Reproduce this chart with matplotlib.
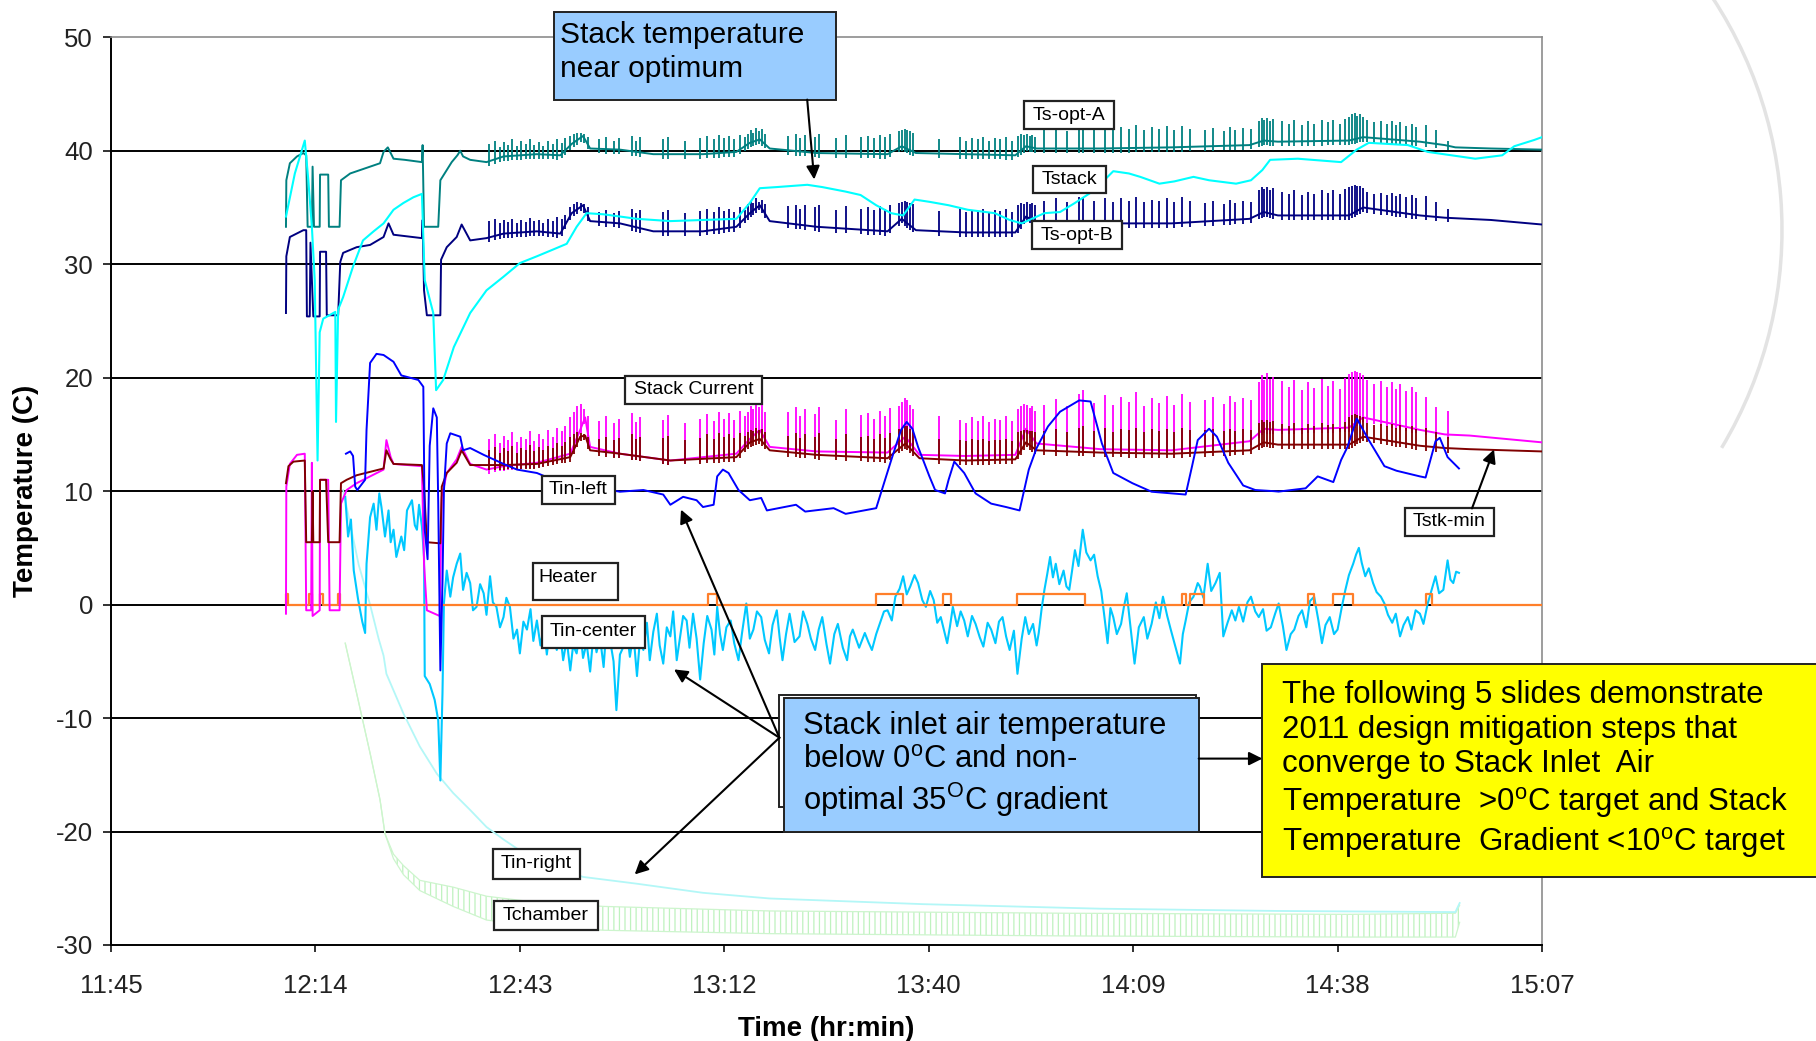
import numpy as np
import matplotlib
matplotlib.use('Agg')
import matplotlib.pyplot as plt
from matplotlib.patches import Rectangle, FancyArrowPatch, Arc
from matplotlib.transforms import Affine2D

plt.rcParams['font.family'] = ['Liberation Sans', 'DejaVu Sans']
plt.rcParams['mathtext.fontset'] = 'custom'
plt.rcParams['mathtext.rm'] = 'Liberation Sans'
plt.rcParams['hatch.linewidth'] = 0.9

W, H = 1816, 1041

# time in minutes of the day
x_ticks = [705.6, 734.4, 763.2, 792.0, 820.8, 849.6, 878.4, 907.2]
x_labels = ['11:45', '12:14', '12:43', '13:12', '13:40', '14:09', '14:38', '15:07']
y_ticks = [-30, -20, -10, 0, 10, 20, 30, 40, 50]

ts_opt_a = [(730.25, 33.3), (730.3, 37.4), (730.8, 38.9), (731.8, 39.5), (732.7, 39.8), (733.1, 39.6),
            (733.3, 33.3), (733.9, 33.3), (734.0, 38.6), (734.2, 33.3), (735.0, 33.3), (735.05, 37.9),
            (736.2, 37.9), (736.3, 33.3), (737.8, 33.3), (738.0, 37.4), (739.3, 38.0), (742.1, 38.6),
            (743.5, 38.9), (744.0, 39.9), (744.6, 40.3), (745.4, 39.3), (747.0, 39.2), (749.4, 39.0),
            (749.5, 40.5), (749.7, 33.3), (751.7, 33.3), (752.0, 37.4), (752.9, 38.3), (753.6, 39.0),
            (754.4, 39.6), (754.8, 40.0), (755.2, 39.5), (756.2, 39.2), (758.5, 39.0), (760.9, 39.5),
            (765.6, 39.7), (768.9, 39.6), (770.5, 40.6), (772.1, 41.3), (773.1, 40.2), (777.3, 40.1),
            (782.0, 39.7), (789.0, 39.7), (793.7, 39.9), (795.6, 40.7), (797.0, 41.0), (798.4, 40.2),
            (805.0, 39.8), (815.0, 39.7), (817.0, 40.4), (819.0, 39.8), (826.0, 39.7), (833.0, 39.6),
            (834.5, 40.4), (836.0, 40.2), (845.0, 40.2), (855.0, 40.3), (866.0, 40.5), (868.0, 40.9),
            (870.0, 40.8), (880.0, 40.9), (882.0, 41.2), (890.0, 40.8), (893.5, 40.5), (895.0, 40.3),
            (900.0, 40.2), (907.2, 40.1)]

ts_opt_b = [(730.25, 25.7), (730.3, 30.7), (730.8, 32.4), (732.7, 33.0), (733.1, 33.0), (733.2, 25.4),
            (733.6, 25.4), (733.7, 31.9), (734.1, 25.4), (735.0, 25.4), (735.05, 31.1), (735.9, 31.1),
            (736.0, 25.5), (737.6, 25.5), (737.9, 30.2), (738.3, 31.0), (740.2, 31.5), (742.1, 31.7),
            (744.0, 32.4), (744.7, 33.6), (745.4, 32.6), (749.4, 32.3), (749.5, 33.9), (749.7, 27.7),
            (750.1, 25.5), (752.0, 25.5), (752.1, 30.4), (752.9, 31.5), (754.3, 32.4), (755.0, 33.5),
            (756.2, 32.1), (758.5, 32.3), (760.9, 32.7), (765.6, 32.9), (768.9, 32.7), (770.5, 34.5),
            (772.1, 35.2), (773.1, 33.8), (777.3, 33.6), (782.0, 32.9), (789.0, 32.9), (793.7, 33.3),
            (795.6, 34.5), (797.0, 35.2), (798.4, 33.8), (805.0, 33.3), (815.0, 32.9), (817.0, 34.0),
            (819.0, 33.0), (826.0, 32.8), (833.0, 32.8), (834.5, 34.2), (836.0, 33.7), (845.0, 33.6),
            (855.0, 33.6), (866.0, 34.0), (868.0, 34.6), (870.0, 34.3), (880.0, 34.3), (882.0, 35.0),
            (890.0, 34.3), (893.5, 34.1), (900.0, 33.9), (907.2, 33.5)]

tstack = [(730.25, 34.2), (731.5, 38.0), (732.9, 40.9), (733.4, 37.4), (733.9, 33.3), (734.3, 28.6),
          (734.7, 12.7), (735.0, 24.0), (735.5, 25.2), (737.2, 25.8), (737.3, 16.1), (737.6, 26.0),
          (738.3, 27.1), (739.7, 29.8), (741.1, 32.1), (742.6, 32.9), (744.0, 33.6), (745.4, 34.8),
          (746.8, 35.4), (748.2, 35.9), (749.4, 36.2), (749.8, 28.6), (751.0, 25.7), (751.4, 18.9),
          (752.4, 19.8), (753.9, 22.7), (756.2, 25.7), (758.5, 27.7), (760.9, 28.9), (763.2, 30.1),
          (765.6, 30.7), (767.9, 31.3), (769.8, 31.8), (771.2, 33.3), (772.6, 34.5), (775.0, 34.4),
          (779.7, 34.0), (784.4, 33.8), (789.0, 33.9), (793.7, 34.0), (795.6, 35.4), (797.0, 36.7),
          (799.4, 36.8), (803.7, 37.0), (805.8, 36.8), (809.1, 36.4), (811.2, 36.1), (813.4, 35.2),
          (815.5, 34.5), (817.2, 34.3), (818.8, 35.7), (820.9, 35.5), (823.6, 35.2), (826.3, 34.8),
          (830.1, 34.5), (832.2, 33.9), (833.9, 33.6), (837.1, 34.5), (839.3, 34.6), (841.4, 35.4),
          (844.1, 36.5), (846.8, 38.2), (849.0, 38.0), (850.6, 37.7), (853.3, 37.1), (855.4, 37.3),
          (858.1, 37.7), (860.3, 37.4), (864.1, 37.1), (866.2, 37.4), (867.8, 38.3), (868.9, 39.2),
          (872.8, 39.3), (878.9, 39.0), (881.1, 40.1), (882.8, 40.7), (888.3, 40.5), (891.1, 39.9),
          (897.8, 39.3), (901.6, 39.6), (903.3, 40.4), (906.1, 40.95), (907.2, 41.2)]

stack_current = [(730.25, -0.8), (730.3, 10.4), (730.8, 12.4), (731.8, 13.2), (732.9, 13.3), (733.1, -0.5),
                 (733.8, -0.5), (733.9, 12.5), (734.0, -1.0), (735.0, -0.5), (735.05, 11.0), (736.2, 11.0),
                 (736.4, -0.5), (737.8, -0.5), (738.0, 8.9), (738.8, 10.1), (740.2, 10.7), (742.1, 11.3),
                 (744.0, 11.9), (744.4, 14.5), (745.0, 13.0), (745.4, 12.4), (749.4, 12.2), (749.7, 3.6),
                 (750.1, -0.5), (751.9, -1.0), (752.2, 9.5), (752.9, 11.6), (754.3, 12.8), (755.0, 13.9),
                 (756.2, 12.4), (758.5, 11.9), (760.9, 12.2), (765.6, 12.5), (770.3, 13.3), (771.7, 15.4),
                 (772.4, 16.5), (773.1, 13.9), (777.3, 13.3), (784.4, 12.7), (793.7, 13.3), (795.6, 14.6),
                 (797.0, 15.4), (798.4, 13.9), (805.0, 13.5), (815.0, 13.4), (817.5, 14.8), (819.5, 13.2),
                 (826.0, 13.1), (833.0, 13.2), (834.5, 15.5), (836.0, 14.2), (845.0, 13.7), (855.0, 13.6),
                 (866.0, 14.4), (868.0, 15.5), (870.0, 15.4), (880.0, 15.6), (882.0, 16.5), (890.0, 15.4),
                 (893.5, 15.0), (897.0, 14.9), (907.2, 14.3)]

tstk_min = [(730.25, 10.7), (730.6, 12.2), (731.3, 12.6), (732.9, 12.7), (733.1, 5.5), (733.9, 5.5),
            (734.0, 10.0), (734.1, 5.5), (735.0, 5.5), (735.05, 11.0), (735.9, 11.0), (736.2, 5.5),
            (737.8, 5.5), (738.0, 10.7), (738.8, 11.0), (740.2, 11.4), (742.1, 11.7), (744.0, 12.0),
            (744.4, 13.6), (745.0, 12.8), (745.4, 12.4), (749.4, 12.3), (749.7, 10.4), (750.1, 5.5),
            (752.0, 5.4), (752.2, 10.4), (752.9, 11.6), (754.3, 12.5), (755.0, 13.6), (756.2, 12.3),
            (760.9, 12.3), (765.6, 12.4), (770.3, 13.0), (771.7, 14.8), (772.4, 14.9), (773.1, 13.6),
            (777.3, 13.3), (784.4, 12.7), (793.7, 13.0), (795.6, 14.3), (797.0, 14.6), (798.4, 13.6),
            (805.0, 13.2), (815.0, 12.9), (817.5, 14.2), (819.5, 12.9), (826.0, 12.7), (833.0, 12.8),
            (834.5, 14.3), (836.0, 13.6), (845.0, 13.4), (855.0, 13.3), (866.0, 13.6), (868.0, 14.3),
            (870.0, 14.1), (880.0, 14.1), (882.0, 14.8), (890.0, 14.0), (893.5, 13.8), (897.0, 13.7),
            (907.2, 13.5)]

# spike times shared by the stack signals, and spike tops per signal
spike_t = [758.8, 759.7, 760.4, 761.0, 761.5, 762.1, 762.8, 763.4, 764.0, 764.6, 765.2, 765.9, 766.5,
           767.1, 767.8, 768.5, 769.1, 769.6, 770.3, 770.8, 771.3, 771.8, 772.3, 772.8, 774.3, 775.4,
           776.4, 777.1, 779.0, 779.5, 780.1, 783.4, 784.1, 786.5, 788.6, 789.6, 790.5, 791.2, 791.9,
           792.6, 793.3, 794.2, 794.9, 795.3, 795.7, 796.1, 796.5, 796.9, 797.3, 797.7, 801.0, 802.1,
           802.7, 803.4, 804.8, 805.4, 807.7, 809.1, 811.2, 812.3, 813.1, 813.9, 814.7, 815.4, 816.6,
           817.0, 817.4, 817.8, 818.2, 818.6, 822.3, 825.2, 826.0, 826.9, 827.7, 828.5, 829.3, 830.1,
           830.9, 831.7, 832.5, 833.4, 833.8, 834.2, 834.6, 835.0, 835.4, 835.8, 837.1, 838.7, 840.3,
           842.0, 842.5, 844.1, 845.7, 846.8, 847.9, 849.0, 850.0, 851.1, 852.2, 853.3, 854.3, 855.4,
           856.5, 857.6, 859.7, 860.8, 862.4, 863.2, 864.0, 865.1, 866.2, 867.3, 867.7, 868.1, 868.5,
           868.9, 869.3, 870.6, 871.5, 872.3, 873.4, 874.2, 875.1, 876.2, 877.0, 877.8, 878.7, 879.5,
           880.0, 880.4, 880.8, 881.2, 881.6, 882.0, 882.5, 883.6, 884.5, 885.3, 886.1, 886.7, 887.2,
           888.1, 888.9, 889.4, 890.8, 892.2, 893.9]
spike_a = [40.6, 40.9, 40.3, 40.8, 40.5, 41.0, 40.4, 40.9, 40.6, 41.0, 40.5, 40.8, 40.4,
           40.9, 40.6, 41.0, 40.7, 41.1, 41.3, 41.5, 41.6, 41.6, 41.5, 41.2, 41.0, 41.2,
           40.9, 41.1, 41.3, 40.9, 41.2, 41.0, 41.2, 40.9, 41.1, 41.3, 41.0, 41.4, 41.1,
           41.3, 41.0, 41.4, 41.2, 41.5, 41.8, 41.6, 42.0, 41.7, 41.9, 41.5, 41.3, 41.5,
           41.1, 41.4, 41.2, 41.5, 41.1, 41.4, 41.2, 41.3, 41.1, 41.4, 41.2, 41.5, 41.7,
           41.8, 41.9, 41.8, 41.7, 41.6, 41.0, 41.2, 40.9, 41.1, 41.0, 41.2, 40.9, 41.1,
           41.0, 41.2, 40.9, 41.3, 41.5, 41.4, 41.5, 41.3, 41.4, 41.2, 41.8, 42.1, 41.7,
           42.2, 42.4, 41.9, 42.2, 41.8, 42.1, 41.9, 42.3, 41.8, 42.1, 41.9, 42.2, 41.8,
           42.2, 41.9, 41.8, 42.0, 41.7, 42.1, 41.8, 42.0, 41.9, 42.6, 42.9, 42.7, 42.9,
           42.6, 42.8, 42.6, 42.4, 42.7, 42.3, 42.6, 42.4, 42.7, 42.5, 42.7, 42.4, 42.8,
           43.0, 43.2, 43.3, 43.1, 43.2, 43.0, 42.7, 42.5, 42.6, 42.4, 42.6, 42.3, 42.5,
           42.2, 42.4, 42.1, 42.3, 41.8, 40.9]
spike_b = [33.8, 34.0, 33.6, 33.9, 33.7, 34.0, 33.6, 33.9, 33.7, 34.1, 33.8, 33.9, 33.6,
           34.0, 33.8, 34.2, 34.0, 34.3, 35.0, 35.3, 35.5, 35.4, 35.3, 35.0, 34.6, 34.8,
           34.5, 34.7, 34.9, 34.5, 34.8, 34.6, 34.8, 34.5, 34.7, 34.9, 34.6, 35.0, 34.7,
           34.9, 34.6, 35.0, 34.8, 35.3, 35.6, 35.4, 35.8, 35.5, 35.7, 35.3, 35.1, 35.2,
           34.9, 35.2, 35.0, 35.2, 34.8, 35.1, 34.9, 35.0, 34.8, 35.1, 34.9, 35.2, 35.4,
           35.5, 35.6, 35.5, 35.4, 35.3, 34.7, 34.9, 34.6, 34.8, 34.7, 34.9, 34.6, 34.8,
           34.7, 34.9, 34.6, 35.2, 35.4, 35.3, 35.5, 35.3, 35.4, 35.2, 35.6, 35.8, 35.5,
           35.9, 35.9, 35.6, 35.8, 35.5, 35.8, 35.6, 35.9, 35.5, 35.7, 35.6, 35.8, 35.5,
           35.9, 35.6, 35.4, 35.6, 35.3, 35.7, 35.4, 35.6, 35.5, 36.5, 36.8, 36.6, 36.8,
           36.5, 36.7, 36.4, 36.2, 36.5, 36.1, 36.4, 36.2, 36.5, 36.3, 36.5, 36.2, 36.6,
           36.8, 36.9, 37.0, 36.9, 36.9, 36.7, 36.4, 36.2, 36.3, 36.1, 36.3, 36.0, 36.2,
           35.9, 36.1, 35.8, 36.0, 35.5, 34.9]
spike_i = [14.6, 15.0, 14.2, 14.9, 14.5, 15.2, 14.3, 14.8, 14.6, 15.3, 14.4, 15.0, 14.6,
           15.4, 14.8, 15.6, 15.3, 15.7, 16.5, 17.0, 17.5, 17.7, 17.2, 16.6, 16.2, 16.6,
           16.0, 16.4, 16.9, 16.1, 16.5, 16.3, 16.7, 16.0, 16.4, 16.8, 16.2, 17.0, 16.4,
           16.9, 16.3, 17.1, 16.6, 17.0, 17.5, 17.2, 17.9, 17.4, 17.7, 17.0, 17.0, 17.4,
           16.6, 17.2, 16.8, 17.4, 16.3, 17.2, 16.7, 16.9, 16.4, 17.1, 16.6, 17.3, 17.5,
           17.9, 18.2, 18.0, 17.6, 17.2, 16.6, 16.3, 16.0, 16.5, 16.2, 16.6, 16.1, 16.4,
           16.3, 16.6, 16.2, 17.2, 17.5, 17.7, 17.6, 17.3, 17.5, 17.1, 17.6, 18.1, 17.5,
           18.6, 18.9, 17.8, 18.5, 17.6, 18.3, 17.9, 18.7, 17.5, 18.2, 17.8, 18.4, 17.6,
           18.6, 17.9, 18.0, 18.3, 17.7, 18.4, 17.9, 18.2, 18.0, 19.6, 20.2, 19.8, 20.4,
           19.9, 20.1, 19.7, 19.2, 19.8, 18.9, 19.6, 19.1, 19.9, 19.3, 19.7, 19.0, 20.0,
           20.3, 20.5, 20.6, 20.5, 20.4, 20.2, 19.8, 19.4, 19.7, 19.2, 19.6, 19.0, 19.4,
           18.8, 19.2, 18.7, 18.3, 17.4, 17.1]
spike_m = [13.6, 13.9, 13.4, 13.8, 13.5, 14.0, 13.4, 13.8, 13.6, 14.1, 13.5, 13.9, 13.6,
           14.0, 13.8, 14.2, 14.0, 14.3, 14.8, 15.0, 15.2, 15.1, 15.0, 14.8, 14.6, 14.8,
           14.5, 14.7, 15.0, 14.6, 14.8, 14.7, 14.9, 14.5, 14.7, 15.0, 14.6, 15.1, 14.8,
           15.0, 14.7, 15.1, 14.9, 15.2, 15.4, 15.3, 15.6, 15.4, 15.5, 15.2, 14.9, 15.1,
           14.7, 15.0, 14.8, 15.1, 14.6, 15.0, 14.8, 14.9, 14.6, 15.0, 14.7, 15.1, 15.5,
           15.6, 15.7, 15.7, 15.5, 15.4, 14.6, 14.5, 14.4, 14.6, 14.5, 14.6, 14.4, 14.5,
           14.5, 14.6, 14.4, 15.2, 15.3, 15.4, 15.4, 15.3, 15.3, 15.2, 15.3, 15.5, 15.2,
           15.6, 15.7, 15.3, 15.6, 15.2, 15.5, 15.4, 15.6, 15.2, 15.5, 15.3, 15.5, 15.2,
           15.6, 15.4, 15.4, 15.5, 15.3, 15.5, 15.3, 15.5, 15.4, 16.0, 16.3, 16.1, 16.3,
           16.1, 16.2, 15.9, 15.7, 16.0, 15.6, 15.9, 15.7, 16.0, 15.8, 15.9, 15.6, 16.1,
           16.5, 16.7, 16.8, 16.7, 16.6, 16.5, 16.0, 15.8, 15.9, 15.7, 15.9, 15.6, 15.8,
           15.6, 15.7, 15.5, 15.6, 15.2, 14.8]

tin_left = [(738.7, 13.3), (739.3, 13.5), (739.7, 13.1), (740.0, 10.4), (740.3, 10.1), (741.4, 11.0),
            (741.6, 15.4), (742.1, 21.3), (743.0, 22.1), (744.0, 22.0), (745.4, 21.4), (746.5, 20.2),
            (747.7, 20.0), (748.9, 19.8), (749.6, 19.2), (749.8, 6.6), (750.2, 4.0), (750.5, 14.0),
            (751.0, 17.3), (751.5, 16.5), (751.7, 9.0), (752.0, -5.8), (752.3, 2.0), (752.5, 10.0),
            (752.9, 14.2), (753.4, 15.1), (754.8, 14.8), (755.2, 13.6), (756.2, 13.8), (758.1, 13.2),
            (760.9, 12.4), (762.8, 11.9), (765.6, 11.6), (767.9, 11.0), (775.0, 10.2), (777.3, 9.95),
            (780.6, 10.1), (783.4, 9.7), (784.4, 8.8), (786.2, 9.5), (788.1, 9.2), (789.0, 8.6),
            (790.5, 8.8), (791.0, 11.3), (791.8, 11.9), (792.6, 11.6), (794.0, 10.1), (795.6, 9.2),
            (797.2, 9.4), (798.0, 8.3), (802.1, 8.8), (803.4, 8.2), (807.4, 8.5), (809.1, 8.0),
            (813.4, 8.5), (814.5, 10.7), (815.5, 12.7), (816.9, 15.4), (817.7, 16.1), (818.5, 15.5),
            (819.3, 13.9), (820.9, 11.3), (821.7, 10.1), (823.1, 9.8), (823.6, 11.0), (824.4, 12.6),
            (825.8, 11.6), (827.4, 9.8), (829.6, 8.9), (831.7, 8.6), (833.6, 8.3), (834.9, 11.9),
            (836.0, 13.8), (837.6, 15.7), (839.3, 17.0), (842.0, 18.0), (843.6, 17.9), (845.2, 14.2),
            (846.8, 11.6), (849.5, 10.7), (852.2, 9.95), (857.0, 9.7), (857.9, 12.2), (858.7, 14.5),
            (860.3, 15.5), (861.4, 14.8), (863.0, 12.5), (865.1, 10.5), (866.8, 10.1), (869.4, 10.0),
            (870.1, 9.96), (873.9, 10.25), (875.6, 11.3), (877.8, 10.8), (878.9, 12.75), (879.8, 13.9),
            (881.1, 16.4), (882.8, 14.5), (885.0, 12.2), (886.7, 11.8), (890.0, 11.3), (890.8, 11.2),
            (892.2, 14.4), (892.8, 14.7), (893.9, 13.0), (895.5, 12.0)]

tin_center = [(738.6, 9.5), (739.0, 6.0), (739.4, 7.5), (739.8, 3.0), (740.4, 0.5), (741.0, -1.5),
              (741.4, -2.5), (741.6, 3.6), (742.1, 7.7), (742.6, 8.9), (743.0, 6.6), (743.4, 9.8),
              (743.7, 8.6), (744.2, 6.0), (744.7, 8.3), (745.0, 5.5), (745.4, 6.6), (745.8, 4.2),
              (746.5, 6.0), (746.9, 4.8), (747.3, 8.3), (748.0, 9.2), (748.4, 7.0), (748.7, 6.6),
              (749.0, 8.8), (749.4, 6.9), (749.7, 4.2), (749.8, -6.3), (750.5, -7.0), (751.2, -8.4),
              (751.7, -10.2), (752.0, -15.5), (752.3, -7.8), (752.5, 0.1), (752.9, 3.0), (753.4, 0.7),
              (753.8, 2.4), (754.3, 3.6), (754.8, 4.5), (755.2, 1.3), (755.7, 2.8), (756.2, 1.9),
              (756.6, -0.5), (757.1, -0.2), (757.6, 1.8), (758.1, 1.0), (758.5, -0.9), (759.0, 2.5),
              (759.4, 0.2), (759.9, -0.2), (760.4, -2.0), (760.9, -1.1), (761.3, 0.6), (761.8, -0.2),
              (762.3, -3.0), (762.8, -2.2), (763.2, -4.3), (763.7, -1.5), (764.2, -2.2), (764.7, -0.4),
              (765.1, -3.2), (765.6, -1.4), (766.1, -3.6), (766.6, -2.0), (767.0, -4.4), (767.5, -1.8),
              (768.0, -3.0), (768.4, -4.0), (768.9, -2.6), (769.3, -4.9), (769.8, -3.1), (770.3, -5.8),
              (770.7, -3.6), (771.2, -4.3), (771.7, -2.2), (772.1, -4.7), (772.6, -3.4), (773.1, -5.9),
              (773.6, -2.4), (774.0, -4.2), (774.5, -2.9), (775.0, -5.5), (775.4, -2.0), (775.9, -3.1),
              (776.4, -5.0), (776.8, -9.3), (777.3, -4.4), (777.8, -3.7), (778.2, -1.9), (778.7, -4.6),
              (779.2, -2.6), (779.7, -6.3), (780.1, -3.2), (780.6, -4.0), (781.1, -1.6), (781.5, -4.9),
              (782.0, -2.4), (782.5, -0.8), (782.9, -3.6), (783.4, -5.2), (783.9, -2.0), (784.4, -2.8),
              (784.8, -0.6), (785.3, -4.9), (785.8, -2.7), (786.2, -1.0), (786.7, -1.4), (787.1, -3.8),
              (787.6, -0.8), (788.1, -3.0), (788.6, -6.6), (789.1, -3.4), (789.6, -1.0), (790.2, -2.2),
              (790.6, -4.4), (791.0, -0.2), (791.4, -2.6), (791.8, -4.0), (792.3, -2.0), (792.9, -1.4),
              (793.4, -3.4), (794.0, -4.9), (794.5, -2.5), (795.1, 0.1), (795.6, -3.0), (796.1, -2.2),
              (796.6, -0.6), (797.2, -1.1), (797.7, -3.1), (798.3, -4.3), (798.8, -1.8), (799.4, -0.5),
              (799.8, -2.9), (800.2, -4.9), (800.7, -2.6), (801.2, -0.8), (801.9, -3.3), (802.6, -2.8),
              (803.1, -0.6), (803.7, -1.7), (804.2, -3.0), (804.8, -4.0), (805.3, -2.2), (805.8, -1.1),
              (806.4, -3.5), (806.9, -5.2), (807.5, -2.6), (808.0, -1.7), (808.7, -3.8), (809.3, -4.9),
              (809.7, -2.8), (810.1, -2.2), (811.0, -3.8), (811.8, -2.5), (812.3, -3.3), (812.8, -4.0),
              (813.4, -2.6), (813.9, -1.7), (814.5, -0.6), (815.0, -0.5), (815.6, -1.4), (816.1, 0.7),
              (816.7, 1.4), (817.2, 2.5), (817.7, 0.9), (818.2, 1.6), (818.8, 2.6), (819.3, 1.9),
              (819.9, 0.4), (820.4, -0.2), (821.0, 1.2), (821.5, 0.4), (822.0, -1.6), (822.5, -1.1),
              (823.0, -2.4), (823.4, -3.4), (823.8, -1.9), (824.2, -0.2), (824.8, -1.9), (825.3, -0.6),
              (825.8, -1.4), (826.3, -2.8), (826.9, -1.0), (827.4, -1.7), (828.0, -2.9), (828.5, -3.7),
              (829.1, -1.6), (829.6, -2.2), (830.2, -3.4), (830.7, -1.5), (831.2, -1.1), (831.7, -2.8),
              (832.2, -4.0), (832.8, -2.3), (833.3, -6.1), (833.9, -3.0), (834.4, -1.1), (834.9, -2.6),
              (835.5, -1.7), (836.0, -3.6), (836.3, -2.5), (836.7, -0.4), (837.1, 1.3), (837.5, 2.7),
              (837.9, 4.2), (838.3, 2.4), (838.7, 3.6), (839.2, 1.8), (839.8, 3.0), (840.2, 1.6),
              (840.6, 1.3), (841.0, 3.0), (841.4, 4.8), (841.9, 3.4), (842.5, 6.6), (843.0, 4.6),
              (843.6, 3.9), (844.1, 4.4), (844.6, 2.5), (845.1, 1.2), (845.5, -0.8), (846.0, -3.4),
              (846.4, -0.3), (846.8, -1.1), (847.3, -2.6), (847.9, -1.7), (848.3, -0.2), (848.7, 1.0),
              (849.2, -1.8), (849.8, -5.2), (850.4, -2.0), (851.1, -1.1), (851.6, -3.0), (852.2, -1.7),
              (852.8, 0.2), (853.3, -1.2), (853.8, 0.7), (854.4, -1.0), (854.9, -2.2), (855.5, -3.6),
              (856.2, -5.2), (856.6, -2.6), (857.0, -1.4), (857.5, 0.2), (858.1, 0.7), (858.7, 1.9),
              (859.0, 1.6), (859.5, 0.6), (860.1, 3.6), (860.6, 1.2), (861.2, 1.9), (861.8, 2.8),
              (862.3, -2.8), (862.9, -1.6), (863.5, -0.5), (864.0, -1.4), (864.5, -0.2), (865.1, -1.5),
              (865.7, 0.2), (866.2, 0.7), (866.8, -0.6), (867.3, -1.1), (867.9, -0.4), (868.4, -2.3),
              (869.0, -2.0), (869.6, -0.8), (870.1, 0.1), (870.7, -1.9), (871.2, -4.0), (871.8, -2.6),
              (872.3, -2.2), (872.9, -1.0), (873.4, -0.5), (874.0, -2.0), (874.5, 0.3), (875.1, 0.7),
              (875.7, -1.4), (876.2, -3.4), (876.7, -1.8), (877.3, -1.1), (877.9, -2.6), (878.4, -2.2),
              (879.0, -0.2), (879.5, 1.3), (880.0, 2.6), (880.6, 3.6), (881.0, 4.4), (881.4, 5.0),
              (881.8, 3.7), (882.3, 2.5), (882.8, 3.2), (883.4, 1.9), (883.9, 1.1), (884.5, 0.7),
              (885.0, 0.1), (885.5, -0.9), (886.1, -1.6), (886.6, -0.8), (887.2, -2.8), (887.7, -1.8),
              (888.3, -1.1), (888.8, -2.2), (889.4, -0.5), (890.0, -0.8), (890.5, -1.7), (891.1, 0.1),
              (891.6, 1.2), (892.2, 2.5), (892.7, 1.0), (893.3, 1.3), (893.9, 3.9), (894.3, 2.2),
              (894.7, 1.9), (895.1, 2.9), (895.5, 2.8)]

tin_right = [(738.3, 10.1), (739.5, 6.5), (740.5, 3.5), (742.1, 0.0), (743.3, -3.0), (744.0, -4.5),
             (744.4, -6.1), (746.8, -9.6), (749.1, -12.5), (751.5, -14.9), (753.8, -16.6), (756.2, -18.1),
             (758.5, -19.6), (760.9, -20.7), (762.8, -21.5), (766.0, -22.7), (772.1, -24.0), (779.7, -24.6),
             (789.0, -25.4), (798.4, -25.9), (820.0, -26.4), (845.0, -26.8), (870.0, -27.0), (895.0, -27.1),
             (895.6, -26.3)]

# chamber temperature: lower and upper edge of its oscillation
tchamber = [(738.6, -3.4, -3.4), (740.2, -7.8, -7.8), (742.1, -13.1, -13.1), (743.5, -17.2, -17.2),
            (744.2, -20.2, -20.2), (745.4, -22.0, -22.4), (746.8, -23.0, -23.8), (749.1, -24.3, -25.2),
            (753.8, -24.9, -26.6), (758.5, -25.7, -27.8), (765.0, -26.2, -28.3), (775.0, -26.6, -28.7),
            (798.4, -27.0, -29.0), (840.0, -27.2, -29.2), (880.0, -27.3, -29.3), (895.0, -27.2, -29.3),
            (895.6, -26.5, -28.0)]

heater_start, heater_end = 730.2, 907.2
heater_on = [(730.2, 730.6), (733.5, 733.9), (735.0, 735.5), (737.6, 737.9), (789.7, 791.0),
             (813.4, 817.2), (822.8, 823.9), (833.3, 842.8), (856.5, 857.0), (857.6, 859.6),
             (874.2, 875.1), (877.8, 880.6), (890.8, 891.7)]
heater_level = 0.9

fig = plt.figure(figsize=(W / 100, H / 100), dpi=100)
ax = fig.add_axes([111 / W, 1 - 945 / H, 1431 / W, 907.7 / H])
ax.set_xlim(705.6, 907.2)
ax.set_ylim(-30, 50)

for y in [-20, -10, 0, 10, 20, 30, 40]:
    ax.axhline(y, color='black', lw=1.4, zorder=1)

# chamber band
tc = np.array(tchamber)
ax.fill_between(tc[:, 0], tc[:, 1], tc[:, 2], facecolor='none', edgecolor='#bff2bf',
                hatch='|||', lw=0, zorder=2)
ax.plot(tc[:, 0], tc[:, 1], color='#cdf5cd', lw=0.9, zorder=2)
ax.plot(tc[:, 0], tc[:, 2], color='#cdf5cd', lw=0.9, zorder=2)

tr = np.array(tin_right)
ax.plot(tr[:, 0], tr[:, 1], color='#b3f7f7', lw=1.3, zorder=2.1)

tcen = np.array(tin_center)
ax.plot(tcen[:, 0], tcen[:, 1], color='#00c8ff', lw=1.5, zorder=2.5)

# heater status steps
ht, hv = [heater_start], [0]
for a, b in heater_on:
    ht += [a, a, b, b]
    hv += [0, heater_level, heater_level, 0]
ht.append(heater_end)
hv.append(0)
ax.plot(ht, hv, color='#ff7f2a', lw=1.6, zorder=2.6)


def spiky(series, tops, color, z):
    arr = np.array(series)
    ax.plot(arr[:, 0], arr[:, 1], color=color, lw=1.4, zorder=z)
    foot = np.interp(spike_t, arr[:, 0], arr[:, 1]) - 0.4
    ax.vlines(spike_t, foot, tops, color=color, lw=1.3, zorder=z)


spiky(stack_current, spike_i, '#ff00ff', 3.0)
spiky(tstk_min, spike_m, '#800000', 3.2)

tl = np.array(tin_left)
ax.plot(tl[:, 0], tl[:, 1], color='#0000ff', lw=1.4, zorder=3.4)

spiky(ts_opt_b, spike_b, '#000080', 3.6)
spiky(ts_opt_a, spike_a, '#008080', 3.8)

ts = np.array(tstack)
ax.plot(ts[:, 0], ts[:, 1], color='#00ffff', lw=1.5, zorder=4)

# axes styling
for s in ['top', 'right']:
    ax.spines[s].set_color('#8c8c8c')
    ax.spines[s].set_linewidth(1.2)
for s in ['left', 'bottom']:
    ax.spines[s].set_color('black')
    ax.spines[s].set_linewidth(1.4)
ax.set_yticks(y_ticks)
ax.set_yticklabels([str(v) for v in y_ticks])
ax.set_xticks(x_ticks)
ax.set_xticklabels(x_labels)
ax.tick_params(axis='y', direction='out', length=6, width=1.3, pad=7, labelsize=18.5, colors='#222222')
ax.tick_params(axis='x', direction='out', length=5, width=1.3, pad=16, labelsize=18.5, colors='#222222')

# pixel transform for figure level annotations (origin top-left)
px = Affine2D().scale(1 / W, -1 / H).translate(0, 1) + fig.transFigure

fig.text(26, 491, 'Temperature (C)', transform=px, rotation=90, ha='center', va='center',
         fontsize=20, fontweight='bold')
fig.text(826, 1029, 'Time (hr:min)', transform=px, ha='center', va='center',
         fontsize=20, fontweight='bold')

fig.add_artist(Arc((1359, 230), 846, 846, theta1=-40, theta2=31, transform=px,
                   color='#e3e3e3', lw=2.5, zorder=-1))


def box(x0, y0, x1, y1, face, lw=1.4, z=5):
    fig.add_artist(Rectangle((x0, y0), x1 - x0, y1 - y0, transform=px, facecolor=face,
                             edgecolor='#222222', lw=lw, zorder=z))


def arrow(p0, p1):
    fig.add_artist(FancyArrowPatch(p0, p1, transform=px, arrowstyle='-|>', mutation_scale=20,
                                   color='black', lw=1.5, shrinkA=0, shrinkB=0, zorder=7))


# small series labels
labels = [(1024, 101, 1114, 129, 'Ts-opt-A'), (1033, 166, 1106, 193, 'Tstack'),
          (1032, 221, 1122, 249, 'Ts-opt-B'), (625, 376, 762, 404, 'Stack Current'),
          (542, 476, 615, 504, 'Tin-left'), (1405, 508, 1494, 536, 'Tstk-min'),
          (542, 616, 645, 648, 'Tin-center'), (493, 849, 580, 879, 'Tin-right'),
          (494, 901, 598, 930, 'Tchamber')]
for x0, y0, x1, y1, s in labels:
    box(x0, y0, x1, y1, 'white', lw=1.6)
    fig.text((x0 + x1) / 2, (y0 + y1) / 2, s, transform=px, ha='center', va='center',
             fontsize=14, zorder=6)
box(533, 563, 618, 600, 'white', lw=1.6)
fig.text(538, 578, 'Heater', transform=px, ha='left', va='center', fontsize=14, zorder=6)

# callouts
box(553.6, 11.6, 836.2, 99.6, '#99ccff')
fig.text(560.5, 52, 'Stack temperature\nnear optimum', transform=px, ha='left', va='center',
         fontsize=21.5, linespacing=1.25, zorder=6)
arrow((807.2, 99.6), (814.2, 179.5))

box(779.4, 694.9, 1196.4, 807.2, 'white')
box(784.1, 698.4, 1198.7, 831.6, '#99ccff')
fig.text(803, 765, 'Stack inlet air temperature\nbelow 0$^{\\mathrm{o}}$C and non-\n'
         'optimal 35$^{\\mathrm{O}}$C gradient', transform=px, ha='left', va='center',
         fontsize=22.3, linespacing=1.2, zorder=6)
arrow((779.4, 737.7), (681.0, 509.6))
arrow((779.4, 737.7), (674.0, 669.4))
arrow((779.4, 737.7), (634.7, 874.4))
arrow((1198.7, 758.6), (1262.4, 758.6))

box(1262.4, 663.6, 1830, 876.7, '#ffff00')
fig.text(1282, 770, 'The following 5 slides demonstrate\n2011 design mitigation steps that\n'
         'converge to Stack Inlet  Air\nTemperature  >0$^{\\mathrm{o}}$C target and Stack\n'
         'Temperature  Gradient <10$^{\\mathrm{o}}$C target', transform=px, ha='left',
         va='center', fontsize=22.5, linespacing=1.2, zorder=6)

arrow((1472.0, 508.4), (1494.0, 449.4))

fig.savefig('out.png', dpi=100)
